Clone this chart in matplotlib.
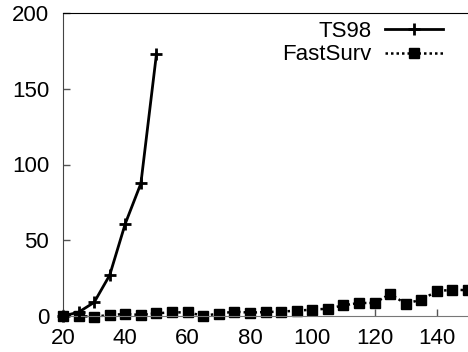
import matplotlib
matplotlib.use("Agg")
import matplotlib.pyplot as plt

plt.rcParams['font.family'] = ['Liberation Sans', 'DejaVu Sans']

# -------- DATA --------
ts98_x = [20, 25, 30, 35, 40, 45, 50]
ts98_y = [0, 2.5, 9, 27, 61, 87.5, 173]

fast_x = [20, 25, 30, 35, 40, 45, 50, 55, 60, 65, 70, 75, 80, 85,
          90, 95, 100, 105, 110, 115, 120, 125, 130, 135, 140, 145, 150]
fast_y = [0, 0, -0.5, 0.7, 1.3, 0.7, 1.8, 2.4, 2.4, 0.2, 1.5, 2.9, 2.2, 2.6,
          2.9, 3.5, 4.2, 4.8, 7, 8.6, 8.6, 14.5, 8.1, 10.8, 16.3, 17.4, 17]

xticks = [20, 40, 60, 80, 100, 120, 140]
yticks = [0, 50, 100, 150, 200]

fig = plt.figure(figsize=(4.68, 3.52), dpi=100)
ax = fig.add_axes([63 / 468, 1 - 316 / 352, 1 - 63 / 468, 303 / 352])

ax.plot(ts98_x, ts98_y, color="black", lw=2, marker="+", ms=9, mew=2,
        label="TS98", clip_on=False, zorder=3)
ax.plot(fast_x, fast_y, color="black", lw=1.8, ls=(0, (1, 1.2)), marker="s",
        ms=7.5, label="FastSurv", clip_on=False, zorder=2)

ax.set_xlim(20, 150)
ax.set_ylim(0, 200)
ax.set_xticks(xticks)
ax.set_yticks(yticks)
ax.tick_params(direction="in", labelsize=16, length=5, width=1,
               colors="#555555", labelcolor="black")
ax.tick_params(axis="x", pad=9)
ax.tick_params(axis="y", pad=10)
ax.spines["right"].set_visible(False)
ax.spines["top"].set_color("black")
ax.spines["left"].set_color("#444444")
ax.spines["bottom"].set_color("#777777")

leg = ax.legend(loc="upper right", frameon=False, markerfirst=False,
                fontsize=16, handlelength=2.6, handletextpad=0.6,
                borderaxespad=0.2, labelspacing=0.1,
                bbox_to_anchor=(0.97, 1.017))

fig.savefig("out.png", dpi=100)
